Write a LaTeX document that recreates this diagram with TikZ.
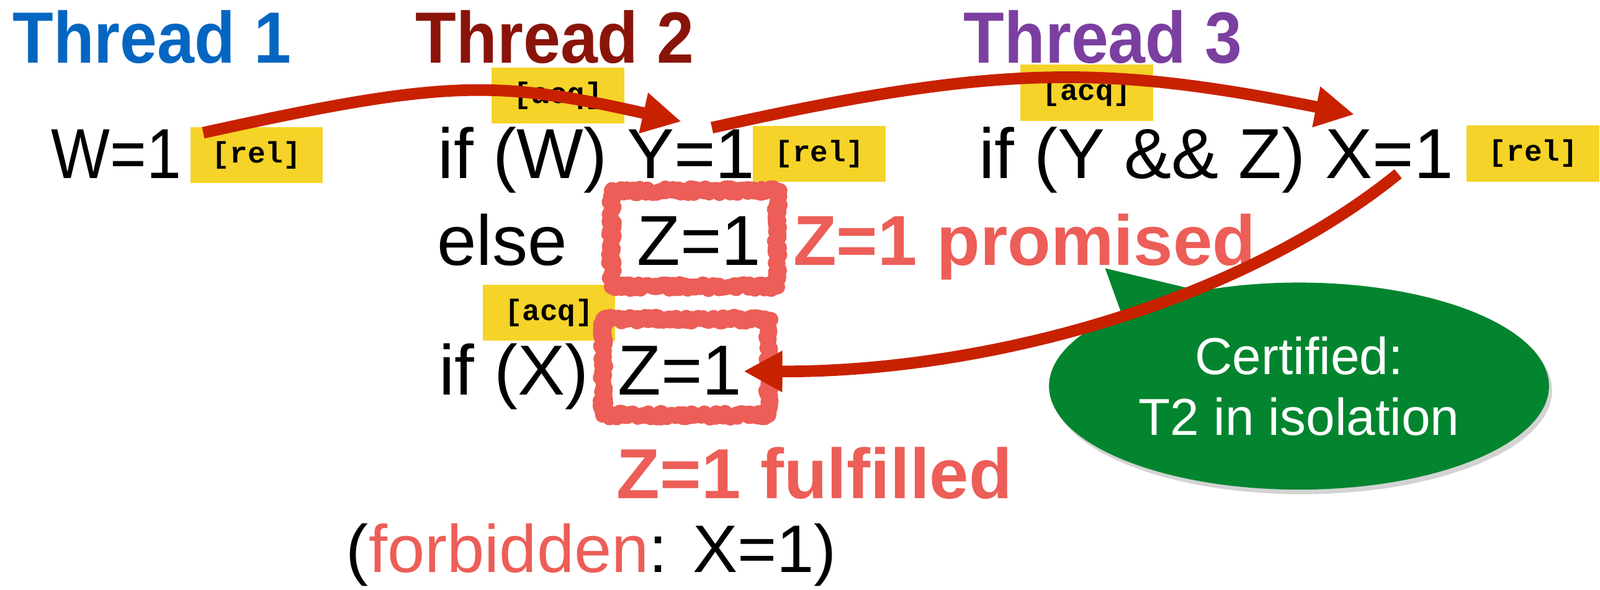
\documentclass[tikz,border=0pt]{standalone}
\usepackage{fontspec}
\setmainfont{Liberation Sans}
\setmonofont{Liberation Mono}
\newfontfamily\titlefont[FakeStretch=0.92]{Liberation Sans}
\newfontfamily\narrowfont[FakeStretch=0.88]{Liberation Sans}
\usetikzlibrary{arrows.meta,calc,shapes.callouts,shadows,decorations.pathmorphing}
\definecolor{tblue}{HTML}{0566C1}
\definecolor{tdarkred}{HTML}{8A1409}
\definecolor{tpurple}{HTML}{7B3FA0}
\definecolor{tagyellow}{HTML}{F5D328}
\definecolor{salmon}{HTML}{EC5E57}
\definecolor{arrowred}{HTML}{C82100}
\definecolor{certgreen}{HTML}{02852E}

\begin{document}
\begin{tikzpicture}[x=0.2mm, y=-0.2mm,
  title/.style={anchor=base west, inner sep=0, font=\titlefont\bfseries\fontsize{40.5}{48}\selectfont},
  code/.style={anchor=base west, inner sep=0, font=\fontsize{39.5}{47}\selectfont},
  tag/.style={fill=tagyellow, inner sep=0, minimum width=26mm, minimum height=11mm, font=\ttfamily\bfseries\fontsize{16.5}{18}\selectfont},
  note/.style={anchor=base west, inner sep=0, text=salmon, font=\bfseries\fontsize{39.5}{47}\selectfont},
  scribble/.style={draw=salmon, line width=8.5pt, line join=round, minimum width=32.5mm, minimum height=18.8mm,
    decorate, decoration={random steps, segment length=1.2pt, amplitude=1.6pt}},
  hb/.style={draw=arrowred, line width=6.5pt, -{Triangle[length=7.6mm, width=7.6mm]}}]
  \useasboundingbox (0,0) rectangle (1568,578);
  % Thread headers
  \node[title, text=tblue] (th1) at (12,62) {Thread 1};
  \node[title, text=tdarkred] (th2) at (407,62) {Thread 2};
  \node[title, text=tpurple] (th3) at (944,62) {Thread 3};
  % Access modes
  \node[tag] (rel1) at (251.5,152) {[rel]};
  \node[tag] (acq2) at (547,93.5) {[acq]};
  \node[tag] (rel2) at (803,151) {[rel]};
  \node[tag] (acq3) at (1065,91) {[acq]};
  \node[tag] (rel3) at (1502.5,150.5) {[rel]};
  \node[tag] (acq4) at (538,306.5) {[acq]};
  % Thread 1
  \node[code, font=\narrowfont\fontsize{39.5}{47}\selectfont] (w1) at (50,175) {W=1};
  % Thread 2
  \node[code] (ifw) at (429,175) {if (W) Y=1};
  \node[code] (else) at (428,260) {else};
  \node[code] (z1) at (624,260) {Z=1};
  \node[code] (ifx) at (430,387) {if (X)};
  \node[code] (z2) at (605,387) {Z=1};
  % Thread 3
  \node[code] (ifyz) at (959,175) {if (Y \&\& Z) X=1};
  % Promise and its fulfilment
  \node[scribble] (zbox1) at (680.5,234) {};
  \node[scribble] (zbox2) at (672,360) {};
  \node[note] (prom) at (777,260) {Z=1 promised};
  \node[note] (fulfil) at (604,489) {Z=1 fulfilled};
  \node[code, font=\fontsize{37.5}{45}\selectfont] (forbid) at (339,561) {(\textcolor{salmon}{forbidden}: X=1)};
  % Certification bubble
  \node[ellipse callout, fill=certgreen, text=white, inner sep=0, minimum width=98mm, minimum height=40.6mm,
    callout absolute pointer={(1083,263)}, callout pointer arc=22, align=center, font=\fontsize{29}{34}\selectfont,
    drop shadow={opacity=0.35, shadow xshift=0.6mm, shadow yshift=-0.9mm}] (cert) at (1273,378.5) {Certified:\\T2 in isolation};
  % Synchronisation arrows
  \draw[hb] ($(rel1.north west)+(13,6)$) .. controls (436,78) and (485,78) .. ($(rel2.north west)+(-70,-4)$);
  \draw[hb] ($(rel2.north west)+(-40,2)$) .. controls (978,63) and (1080,63) .. ($(rel3.north west)+(-110,-10.4)$);
  \draw[hb] ($(rel3.south west)+(-67,-8)$) .. controls (1210,300) and (960,365) .. ($(zbox2.east)+(-32,4)$);
\end{tikzpicture}
\end{document}
